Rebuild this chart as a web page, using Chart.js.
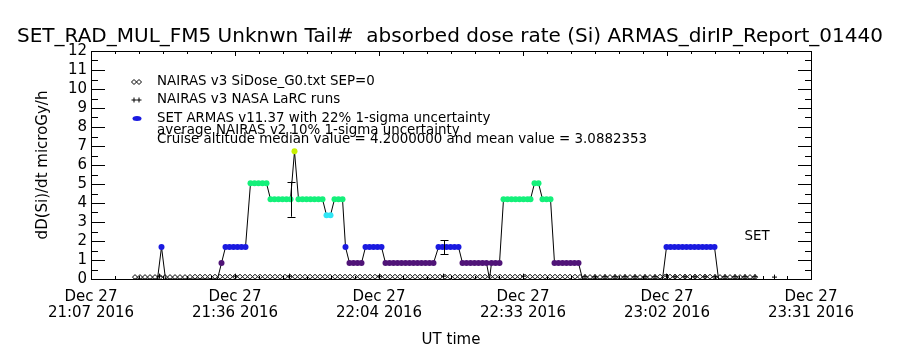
<!DOCTYPE html>
<html>
<head>
<meta charset="utf-8">
<script src="https://cdn.jsdelivr.net/npm/chart.js@4.4.1/dist/chart.umd.min.js"></script>
<style>
  html, body { margin: 0; padding: 0; background: #fff; }
  canvas { display: block; }
</style>
</head>
<body>
<canvas id="doseChart" width="900" height="350"></canvas>
<script>
// x values are minutes after 21:00 UT, Dec 27 2016
const tickTimes = [7.2, 36, 64.8, 93.6, 122.4, 151.2];
const tickDates = ['Dec 27', 'Dec 27', 'Dec 27', 'Dec 27', 'Dec 27', 'Dec 27'];
const tickClock = ['21:07 2016', '21:36 2016', '22:04 2016', '22:33 2016', '23:02 2016', '23:31 2016'];

// SET ARMAS dose rate (microGy/h)
const setTime = [
  15.7, 20.5, 21.3, 22.1, 32.5, 33.3,
  34.1, 34.9, 35.7, 36.5, 37.3, 38.1,
  39.1, 39.9, 40.7, 41.5, 42.3,
  43.1, 43.9, 44.7, 45.5, 46.3, 47.1,
  47.9,
  48.7, 49.5, 50.3, 51.1, 51.9, 52.7, 53.5,
  54.3, 55.1,
  55.9, 56.7, 57.5,
  58.1,
  58.9, 59.7, 60.5, 61.3,
  62.1, 62.9, 63.7, 64.5, 65.3,
  66.1, 66.9, 67.7, 68.5, 69.3, 70.1, 70.9, 71.7, 72.5, 73.3, 74.1, 74.9, 75.7,
  76.7, 77.5, 78.3, 79.1, 79.9, 80.7,
  81.5, 82.3, 83.1, 83.9, 84.7, 85.5, 86.3,
  86.9,
  87.3, 88.1, 88.9,
  89.7, 90.5, 91.3, 92.1, 92.9, 93.7, 94.5, 95.1,
  95.9, 96.7,
  97.5, 98.3, 99.1,
  99.9, 100.7, 101.5, 102.3, 103.1, 103.9, 104.7,
  105.5, 121.5,
  122.3, 123.1, 123.9, 124.7, 125.5, 126.3, 127.1, 127.9, 128.7, 129.5, 130.3, 131.1, 131.9,
  132.7, 139.9
];
const setDose = [
  0, 0, 1.68, 0, 0, 0.84,
  1.68, 1.68, 1.68, 1.68, 1.68, 1.68,
  5.04, 5.04, 5.04, 5.04, 5.04,
  4.2, 4.2, 4.2, 4.2, 4.2, 4.2,
  6.72,
  4.2, 4.2, 4.2, 4.2, 4.2, 4.2, 4.2,
  3.36, 3.36,
  4.2, 4.2, 4.2,
  1.68,
  0.84, 0.84, 0.84, 0.84,
  1.68, 1.68, 1.68, 1.68, 1.68,
  0.84, 0.84, 0.84, 0.84, 0.84, 0.84, 0.84, 0.84, 0.84, 0.84, 0.84, 0.84, 0.84,
  1.68, 1.68, 1.68, 1.68, 1.68, 1.68,
  0.84, 0.84, 0.84, 0.84, 0.84, 0.84, 0.84,
  0,
  0.84, 0.84, 0.84,
  4.2, 4.2, 4.2, 4.2, 4.2, 4.2, 4.2, 4.2,
  5.04, 5.04,
  4.2, 4.2, 4.2,
  0.84, 0.84, 0.84, 0.84, 0.84, 0.84, 0.84,
  0, 0,
  1.68, 1.68, 1.68, 1.68, 1.68, 1.68, 1.68, 1.68, 1.68, 1.68, 1.68, 1.68, 1.68,
  0, 0
];

// SET points shown with the 22% 1-sigma bar
const errTime = [47.1, 77.7];
const errDose = [4.2, 1.68];
const errFrac = 0.22;

// NAIRAS v3 SiDose_G0.txt SEP=0
const nairasTime = [
  16, 17, 18, 19, 20, 21, 22, 23, 24, 25, 26, 27, 28, 29, 30, 31, 32, 33, 34, 35, 36, 37, 38, 39, 40,
  41, 42, 43, 44, 45, 46, 47, 48, 49, 50, 51, 52, 53, 54, 55, 56, 57, 58, 59, 60, 61, 62, 63, 64, 65,
  66, 67, 68, 69, 70, 71, 72, 73, 74, 75, 76, 77, 78, 79, 80, 81, 82, 83, 84, 85, 86, 87, 88, 89, 90,
  91, 92, 93, 94, 95, 96, 97, 98, 99, 100, 101, 102, 103, 104, 105, 106, 107, 108, 109, 110, 111, 112, 113, 114, 115,
  116, 117, 118, 119, 120, 121, 122, 123, 124, 125, 126, 127, 128, 129, 130, 131, 132, 133, 134, 135, 136, 137, 138, 139, 140
];
const nairasDose = [
  0.10, 0.10, 0.10, 0.10, 0.10, 0.10, 0.10, 0.10, 0.10, 0.10, 0.10, 0.11, 0.12, 0.12, 0.12, 0.12, 0.12, 0.12, 0.12, 0.12, 0.12, 0.12, 0.12, 0.12, 0.12,
  0.12, 0.12, 0.12, 0.12, 0.12, 0.12, 0.12, 0.12, 0.12, 0.12, 0.12, 0.12, 0.12, 0.12, 0.12, 0.12, 0.12, 0.12, 0.12, 0.12, 0.12, 0.12, 0.12, 0.12, 0.12,
  0.12, 0.12, 0.12, 0.12, 0.12, 0.12, 0.12, 0.12, 0.12, 0.12, 0.12, 0.12, 0.12, 0.12, 0.12, 0.12, 0.12, 0.12, 0.12, 0.12, 0.12, 0.12, 0.12, 0.12, 0.12,
  0.12, 0.12, 0.12, 0.12, 0.12, 0.12, 0.12, 0.12, 0.12, 0.12, 0.12, 0.12, 0.12, 0.12, 0.11, 0.10, 0.10, 0.10, 0.10, 0.10, 0.10, 0.10, 0.10, 0.10, 0.10,
  0.10, 0.10, 0.10, 0.10, 0.10, 0.12, 0.12, 0.12, 0.12, 0.12, 0.12, 0.12, 0.12, 0.12, 0.12, 0.12, 0.10, 0.10, 0.10, 0.10, 0.10, 0.10, 0.10, 0.10, 0.10
];

// NAIRAS v3 NASA LaRC runs
const larcTime = [20.9, 36.1, 46.9, 64.9, 77.7, 93.7, 106, 108, 110, 112, 114, 116, 118, 120,
  122.3, 124, 126, 128, 130, 132, 134, 136, 138, 140, 143.9];
const larcDose = [0.15, 0.15, 0.15, 0.15, 0.15, 0.15, 0.12, 0.12, 0.12, 0.12, 0.12, 0.12, 0.12, 0.12,
  0.15, 0.12, 0.12, 0.12, 0.12, 0.12, 0.12, 0.12, 0.12, 0.12, 0.1];

const legendLines = [
  'NAIRAS v3 SiDose_G0.txt SEP=0',
  'NAIRAS v3 NASA LaRC runs',
  'SET ARMAS v11.37 with 22% 1-sigma uncertainty',
  'average NAIRAS v2 10% 1-sigma uncertainty',
  'Cruise altitude median value = 4.2000000 and mean value = 3.0882353'
];

const FONT = 'DejaVu Sans';

function doseColor(v) {
  if (v >= 6) return '#c8f000';
  if (v >= 4) return '#14f07a';
  if (v >= 3) return '#30e6f6';
  if (v >= 1.5) return '#1a1ae0';
  return '#501478';
}

function toPoints(xs, ys) {
  return xs.map((t, i) => ({ x: t, y: ys[i] }));
}

// frame, inward ticks, error bars and the in-plot legend
const frameAndNotes = {
  id: 'frameAndNotes',
  afterDraw(chart) {
    const { ctx, chartArea: a, scales: { x, y } } = chart;
    ctx.save();
    ctx.strokeStyle = '#000';
    ctx.lineWidth = 1;
    ctx.beginPath();
    ctx.moveTo(a.left, a.top + 0.5);
    ctx.lineTo(a.right + 1, a.top + 0.5);
    ctx.moveTo(a.right + 0.5, a.top);
    ctx.lineTo(a.right + 0.5, a.bottom + 1);
    for (let v = 0; v <= 12; v += 0.5) {
      const py = Math.round(y.getPixelForValue(v)) + 0.5;
      const len = v % 1 === 0 ? 14 : 7;
      ctx.moveTo(a.left, py); ctx.lineTo(a.left + len, py);
      ctx.moveTo(a.right + 1, py); ctx.lineTo(a.right + 1 - len, py);
    }
    for (let i = 0; i <= 30; i++) {
      const px = Math.round(x.getPixelForValue(tickTimes[0] + i * 4.8)) + 0.5;
      const len = i % 6 === 0 ? 5 : 3;
      ctx.moveTo(px, a.top); ctx.lineTo(px, a.top + len);
      ctx.moveTo(px, a.bottom); ctx.lineTo(px, a.bottom - len);
    }
    // error bars
    errTime.forEach((t, i) => {
      const px = Math.round(x.getPixelForValue(t)) + 0.5;
      const hi = y.getPixelForValue(errDose[i] * (1 + errFrac));
      const lo = y.getPixelForValue(errDose[i] * (1 - errFrac));
      ctx.moveTo(px, hi); ctx.lineTo(px, lo);
      ctx.moveTo(px - 4, Math.round(hi) + 0.5); ctx.lineTo(px + 4, Math.round(hi) + 0.5);
      ctx.moveTo(px - 4, Math.round(lo) + 0.5); ctx.lineTo(px + 4, Math.round(lo) + 0.5);
    });
    ctx.stroke();

    // legend symbols
    ctx.fillStyle = '#fff';
    Chart.helpers.drawPoint(ctx, { pointStyle: 'rectRot', radius: 2.5, borderWidth: 1 }, 134, 82);
    Chart.helpers.drawPoint(ctx, { pointStyle: 'rectRot', radius: 2.5, borderWidth: 1 }, 139, 82);
    Chart.helpers.drawPoint(ctx, { pointStyle: 'cross', radius: 2.5, borderWidth: 1 }, 134, 100);
    Chart.helpers.drawPoint(ctx, { pointStyle: 'cross', radius: 2.5, borderWidth: 1 }, 139, 100);
    ctx.fillStyle = '#1a1ae0';
    ctx.beginPath();
    ctx.ellipse(137, 118.5, 4.5, 2.5, 0, 0, Math.PI * 2);
    ctx.fill();

    // legend text
    ctx.fillStyle = '#000';
    ctx.font = '13.4px "' + FONT + '"';
    ctx.textBaseline = 'middle';
    ctx.textAlign = 'left';
    const rows = [82, 100, 119, 131, 140];
    legendLines.forEach((s, i) => ctx.fillText(s, 157, rows[i]));
    ctx.textAlign = 'center';
    ctx.fillText('SET', 757, 237);
    ctx.restore();
  }
};

const ctxDose = document.getElementById('doseChart').getContext('2d');
const doseChart = new Chart(ctxDose, {
  type: 'line',
  data: {
    datasets: [{
      label: 'SET ARMAS v11.37',
      data: toPoints(setTime, setDose),
      yAxisID: 'y',
      borderColor: '#000',
      borderWidth: 1,
      tension: 0,
      pointRadius: c => (c.raw && c.raw.y > 0 ? 3 : 0),
      pointBorderWidth: 0,
      pointBackgroundColor: c => doseColor(c.raw ? c.raw.y : 0),
      pointBorderColor: c => doseColor(c.raw ? c.raw.y : 0)
    }, {
      label: 'NAIRAS v3 NASA LaRC runs',
      data: toPoints(larcTime, larcDose),
      yAxisID: 'y',
      showLine: false,
      pointStyle: 'cross',
      pointRadius: 2.5,
      pointBorderWidth: 1,
      pointBorderColor: '#000'
    }, {
      label: 'NAIRAS v3 SiDose_G0.txt SEP=0',
      data: toPoints(nairasTime, nairasDose),
      yAxisID: 'y',
      showLine: false,
      pointStyle: 'rectRot',
      pointRadius: 2.5,
      pointBorderWidth: 1,
      pointBorderColor: '#000',
      pointBackgroundColor: '#fff'
    }]
  },
  options: {
    responsive: false,
    animation: false,
    devicePixelRatio: 1,
    events: [],
    layout: { padding: 0 },
    plugins: {
      legend: { display: false },
      tooltip: { enabled: false },
      title: {
        display: true,
        text: 'SET_RAD_MUL_FM5 Unknwn Tail#  absorbed dose rate (Si) ARMAS_dirIP_Report_01440',
        color: '#000',
        font: { family: FONT, size: 20, weight: 'normal' },
        padding: { top: 25, bottom: 2 }
      }
    },
    scales: {
      x: {
        type: 'linear',
        min: tickTimes[0],
        max: tickTimes[tickTimes.length - 1],
        afterBuildTicks: s => { s.ticks = tickTimes.map(v => ({ value: v })); },
        afterFit: s => { s.height = 71; s.paddingLeft = 0; s.paddingRight = 0; },
        ticks: {
          color: '#000',
          font: { family: FONT, size: 15, lineHeight: '16px' },
          padding: 10,
          maxRotation: 0,
          autoSkip: false,
          callback: (v, i) => [tickDates[i], tickClock[i]]
        },
        grid: { display: false, drawTicks: false },
        border: { display: true, color: '#000', width: 1 },
        title: {
          display: true,
          text: 'UT time',
          color: '#000',
          font: { family: FONT, size: 15 },
          padding: { top: 0, bottom: 1 }
        }
      },
      y: {
        min: 0,
        max: 12,
        afterFit: s => { s.width = 91; s.paddingTop = 0; s.paddingBottom = 0; },
        ticks: { stepSize: 1, autoSkip: false, color: '#000', font: { family: FONT, size: 15 }, padding: 4 },
        grid: { display: false, drawTicks: false },
        border: { display: true, color: '#000', width: 1 },
        title: {
          display: true,
          text: 'dD(Si)/dt microGy/h',
          color: '#000',
          font: { family: FONT, size: 15 },
          padding: { top: 34, bottom: 0 }
        }
      },
      y2: {
        position: 'right',
        min: 0,
        max: 12,
        afterFit: s => { s.width = 89; s.paddingTop = 0; s.paddingBottom = 0; },
        ticks: { display: false },
        grid: { display: false, drawTicks: false },
        border: { display: false }
      }
    }
  },
  plugins: [frameAndNotes]
});
</script>
</body>
</html>
